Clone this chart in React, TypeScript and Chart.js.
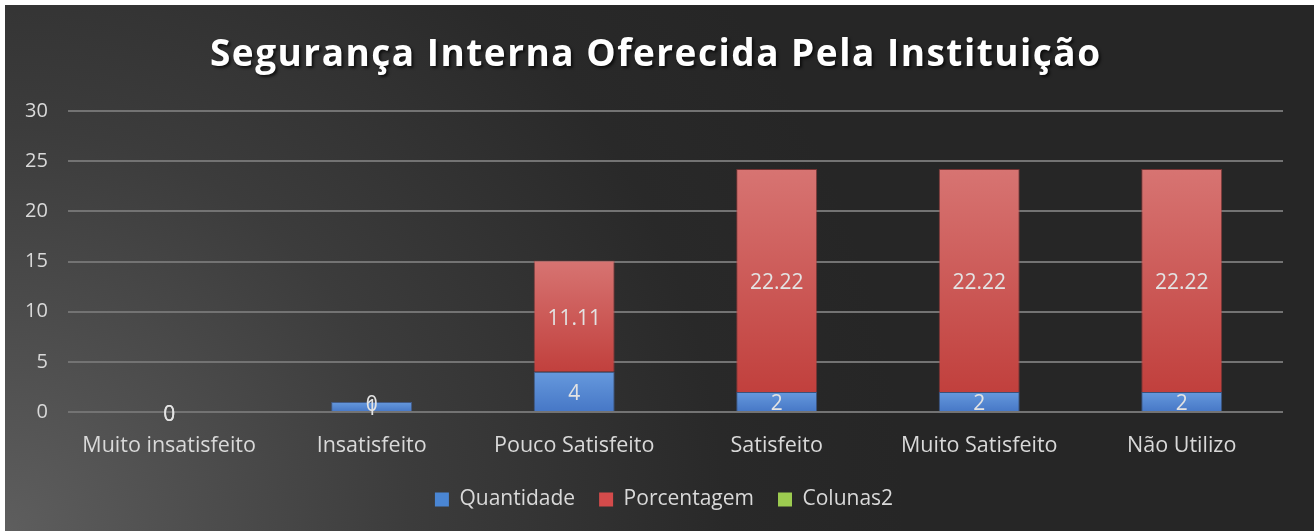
import React, { useEffect, useRef } from "react";
import { Chart, registerables } from "chart.js";

Chart.register(...registerables);

const TITLE = "Segurança Interna Oferecida Pela Instituição";
const categories = ["Muito insatisfeito", "Insatisfeito", "Pouco Satisfeito", "Satisfeito", "Muito Satisfeito", "Não Utilizo"];
const quantidade = [0, 1, 4, 2, 2, 2];
const porcentagem = [0, 0, 11.11, 22.22, 22.22, 22.22];
const colunas2: (number | null)[] = [null, null, null, null, null, null];
const yTicks = [0, 5, 10, 15, 20, 25, 30];

const FONT = "'Open Sans', 'DejaVu Sans', sans-serif";

function barGradient(top: string, bottom: string, base: number[] | null, values: number[]) {
  return (ctx: any) => {
    const chart = ctx.chart;
    const y = chart.scales && chart.scales.y;
    if (!y || ctx.dataIndex === undefined || ctx.type !== "data") return bottom;
    const b = base ? base[ctx.dataIndex] : 0;
    const t = b + (values[ctx.dataIndex] || 0);
    const yt = y.getPixelForValue(t);
    const yb = y.getPixelForValue(b);
    if (!isFinite(yt) || !isFinite(yb) || Math.abs(yb - yt) < 1) return bottom;
    const g = chart.ctx.createLinearGradient(0, yt, 0, yb);
    g.addColorStop(0, top);
    g.addColorStop(1, bottom);
    return g;
  };
}

const bgPlugin = {
  id: "bgPlugin",
  beforeDraw(chart: any) {
    const { ctx, width, height } = chart;
    ctx.save();
    const g = ctx.createRadialGradient(0, height, 0, 0, height, 900);
    g.addColorStop(0, "#5e5e5e");
    g.addColorStop(0.45, "#3c3c3c");
    g.addColorStop(0.8, "#292929");
    g.addColorStop(1, "#262626");
    ctx.fillStyle = g;
    ctx.fillRect(0, 0, width, height);
    ctx.restore();
  },
};

const legendShift = {
  id: "legendShift",
  afterLayout(chart: any) {
    const lg = chart.legend;
    if (lg) {
      lg.left += 20;
      lg.right += 20;
    }
  },
};

const titlePlugin = {
  id: "titlePlugin",
  afterDraw(chart: any) {
    const { ctx, width } = chart;
    ctx.save();
    ctx.font = `bold 37px ${FONT}`;
    ctx.textAlign = "center";
    ctx.textBaseline = "middle";
    const target = 890;
    (ctx as any).letterSpacing = "0px";
    const w = ctx.measureText(TITLE).width;
    const ls = Math.max(0, (target - w) / (TITLE.length - 1));
    (ctx as any).letterSpacing = ls.toFixed(2) + "px";
    ctx.shadowColor = "rgba(0,0,0,0.7)";
    ctx.shadowOffsetX = 2;
    ctx.shadowOffsetY = 2;
    ctx.shadowBlur = 3;
    ctx.fillStyle = "#ffffff";
    ctx.fillText(TITLE, width / 2 - 4.5 + ls / 2, 50);
    (ctx as any).letterSpacing = "0px";
    ctx.restore();
  },
};

const labelPlugin = {
  id: "labelPlugin",
  afterDatasetsDraw(chart: any) {
    const { ctx } = chart;
    ctx.save();
    ctx.font = `21px ${FONT}`;
    ctx.fillStyle = "#e3e3e3";
    ctx.textAlign = "center";
    ctx.textBaseline = "middle";
    [0, 1].forEach((di) => {
      const meta = chart.getDatasetMeta(di);
      const data = chart.data.datasets[di].data as number[];
      meta.data.forEach((el: any, i: number) => {
        const v = data[i];
        if (v === null || v === undefined) return;
        ctx.fillText(String(v), el.x, (el.y + el.base) / 2 + 3);
      });
    });
    ctx.restore();
  },
};

export default function App() {
  const ref = useRef<HTMLCanvasElement | null>(null);
  useEffect(() => {
    if (!ref.current) return;
    const chart = new Chart(ref.current, {
      type: "bar",
      data: {
        labels: categories,
        datasets: [
          {
            label: "Quantidade",
            data: quantidade,
            backgroundColor: barGradient("#6699dd", "#4677c6", null, quantidade),
            borderColor: "rgba(70,110,180,0.6)",
            borderWidth: 1,
            barPercentage: 0.4,
            categoryPercentage: 1,
          },
          {
            label: "Porcentagem",
            data: porcentagem,
            backgroundColor: barGradient("#d77472", "#c1403d", quantidade, porcentagem),
            borderColor: "rgba(170,60,60,0.6)",
            borderWidth: 1,
            barPercentage: 0.4,
            categoryPercentage: 1,
          },
          {
            label: "Colunas2",
            data: colunas2,
            backgroundColor: "#9bc850",
            barPercentage: 0.4,
            categoryPercentage: 1,
          },
        ],
      },
      options: {
        animation: false,
        responsive: false,
        maintainAspectRatio: false,
        layout: { padding: { top: 106, left: 0, right: 31, bottom: 11 } },
        scales: {
          x: {
            stacked: true,
            clip: false,
            grid: { display: false, drawTicks: false },
            border: { display: false },
            ticks: { color: "#d9d9d9", font: { family: FONT, size: 21.5 }, padding: 21, maxRotation: 0 },
            afterFit: (axis: any) => {
              axis.height = 53;
            },
          },
          y: {
            stacked: true,
            min: 0,
            max: 30,
            afterBuildTicks: (axis: any) => {
              axis.ticks = yTicks.map((v) => ({ value: v }));
            },
            grid: { color: "#737373", lineWidth: 2, drawTicks: false },
            border: { display: false },
            ticks: { color: "#d9d9d9", font: { family: FONT, size: 20 }, padding: 20 },
          },
        },
        plugins: {
          title: { display: false },
          tooltip: { enabled: false },
          legend: {
            position: "bottom",
            labels: {
              color: "#d9d9d9",
              font: { family: FONT, size: 21 },
              boxWidth: 14,
              boxHeight: 14,
              padding: 24,
              generateLabels: (ch: any) => {
                const cols = ["#4a86d4", "#d44b4b", "#9ccb50"];
                return ch.data.datasets.map((ds: any, i: number) => ({
                  text: ds.label,
                  fillStyle: cols[i],
                  strokeStyle: cols[i],
                  lineWidth: 0,
                  fontColor: "#d9d9d9",
                  hidden: false,
                  datasetIndex: i,
                }));
              },
            },
          },
        },
      },
      plugins: [bgPlugin, legendShift, titlePlugin, labelPlugin],
    });
    return () => chart.destroy();
  }, []);
  return (
    <div style={{ position: "fixed", left: 5, top: 5, width: 1309, height: 526, background: "#262626" }}>
      <canvas ref={ref} width={1309} height={526} style={{ display: "block", width: 1309, height: 526 }} />
    </div>
  );
}
